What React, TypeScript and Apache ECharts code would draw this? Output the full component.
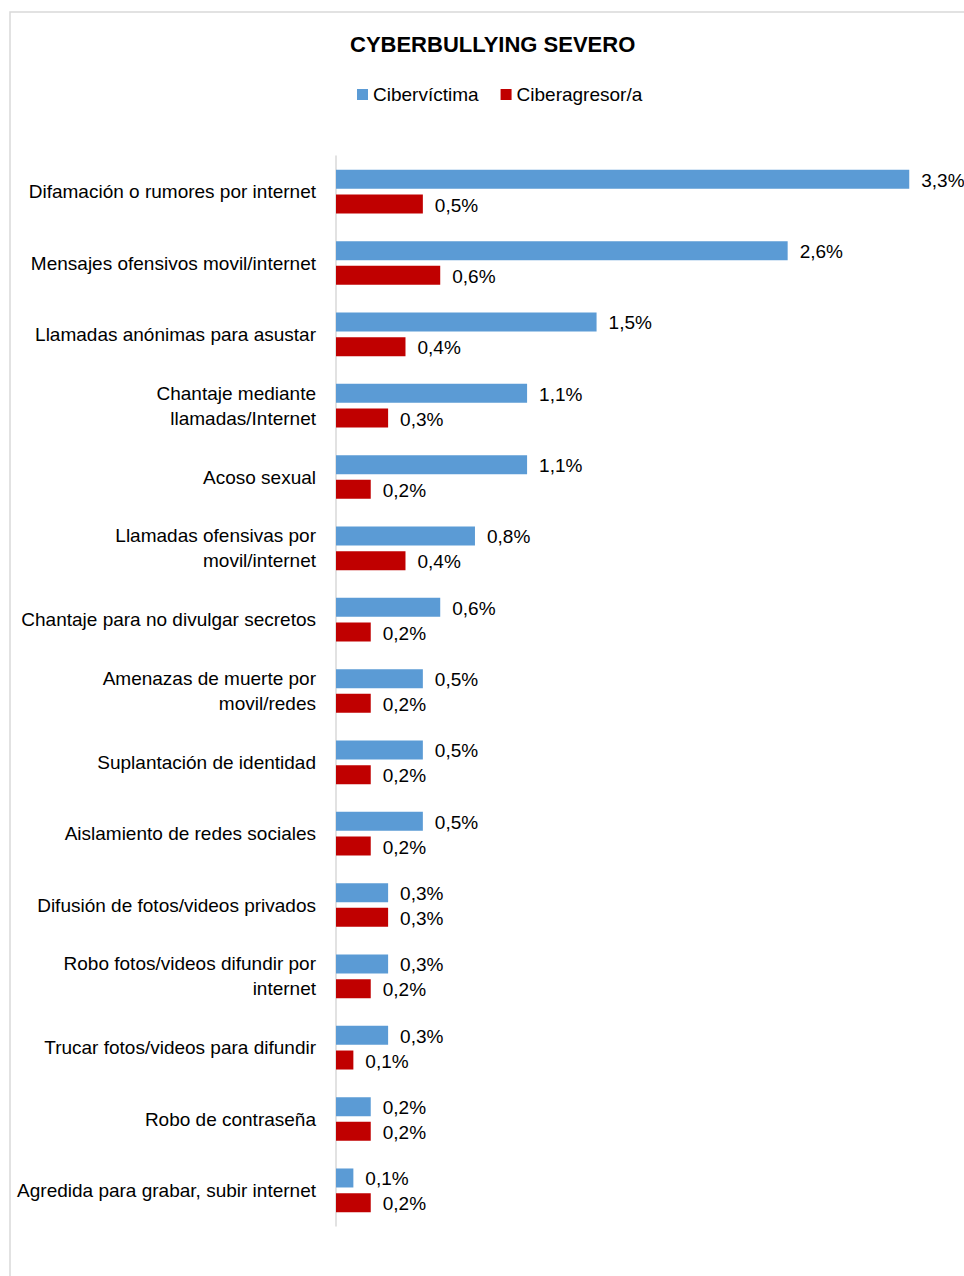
import React, { useEffect, useRef } from "react";
import * as echarts from "echarts";

const categories = [
  "Difamación o rumores por internet",
  "Mensajes ofensivos movil/internet",
  "Llamadas anónimas para asustar",
  "Chantaje mediante\nllamadas/Internet",
  "Acoso sexual",
  "Llamadas ofensivas por\nmovil/internet",
  "Chantaje para no divulgar secretos",
  "Amenazas de muerte por\nmovil/redes",
  "Suplantación de identidad",
  "Aislamiento de redes sociales",
  "Difusión de fotos/videos privados",
  "Robo fotos/videos difundir por\ninternet",
  "Trucar fotos/videos para difundir",
  "Robo de contraseña",
  "Agredida para grabar, subir internet",
];
const cibervictima = [3.3, 2.6, 1.5, 1.1, 1.1, 0.8, 0.6, 0.5, 0.5, 0.5, 0.3, 0.3, 0.3, 0.2, 0.1];
const ciberagresor = [0.5, 0.6, 0.4, 0.3, 0.2, 0.4, 0.2, 0.2, 0.2, 0.2, 0.3, 0.2, 0.1, 0.2, 0.2];

const FONT = "'Liberation Sans', Arial, sans-serif";

export default function App() {
  const ref = useRef<HTMLDivElement>(null);
  useEffect(() => {
    if (!ref.current) return;
    const chart = echarts.init(ref.current, null, { renderer: "svg" });
    const labelFmt = (p: any) => p.value.toFixed(1).replace(".", ",") + "%";
    const valueLabel = {
      show: true,
      position: "right",
      distance: 12,
      offset: [0, 1],
      formatter: labelFmt,
      fontFamily: FONT,
      fontSize: 19,
      color: "#000",
    };
    chart.setOption({
      animation: false,
      backgroundColor: "#ffffff",
      textStyle: { fontFamily: FONT },
      graphic: [
        {
          type: "rect",
          shape: { x: 10, y: 12, width: 1000, height: 1300 },
          style: { fill: "none", stroke: "#d9d9d9", lineWidth: 1.5 },
          silent: true,
        },
      ],
      title: {
        text: "CYBERBULLYING SEVERO",
        left: 345,
        top: 28,
        textStyle: { fontFamily: FONT, fontSize: 22, fontWeight: "bold", color: "#000" },
      },
      legend: {
        left: 357,
        top: 85,
        padding: 0,
        icon: "rect",
        itemWidth: 11,
        itemHeight: 11,
        itemGap: 22,
        textStyle: { fontFamily: FONT, fontSize: 19, color: "#000" },
        data: ["Cibervíctima", "Ciberagresor/a"],
      },
      grid: {
        left: 336,
        top: 156,
        width: 608,
        height: 1070,
        containLabel: false,
        outerBoundsMode: "none",
      },
      xAxis: {
        type: "value",
        min: 0,
        max: 3.5,
        show: false,
      },
      yAxis: {
        type: "category",
        inverse: true,
        data: categories,
        axisLine: { show: true, lineStyle: { color: "#d9d9d9", width: 1.5 } },
        axisTick: { show: false },
        axisLabel: {
          margin: 20,
          fontFamily: FONT,
          fontSize: 19,
          color: "#000",
          lineHeight: 25,
          align: "right",
        },
      },
      series: [
        {
          name: "Cibervíctima",
          type: "bar",
          data: cibervictima,
          barWidth: 19,
          barGap: "30%",
          itemStyle: { color: "#5b9bd5" },
          label: valueLabel,
        },
        {
          name: "Ciberagresor/a",
          type: "bar",
          data: ciberagresor,
          barWidth: 19,
          itemStyle: { color: "#c00000" },
          label: valueLabel,
        },
      ],
    });
    return () => chart.dispose();
  }, []);
  return (
    <div
      ref={ref}
      style={{ position: "absolute", left: 0, top: 0, width: 964, height: 1276 }}
    />
  );
}
